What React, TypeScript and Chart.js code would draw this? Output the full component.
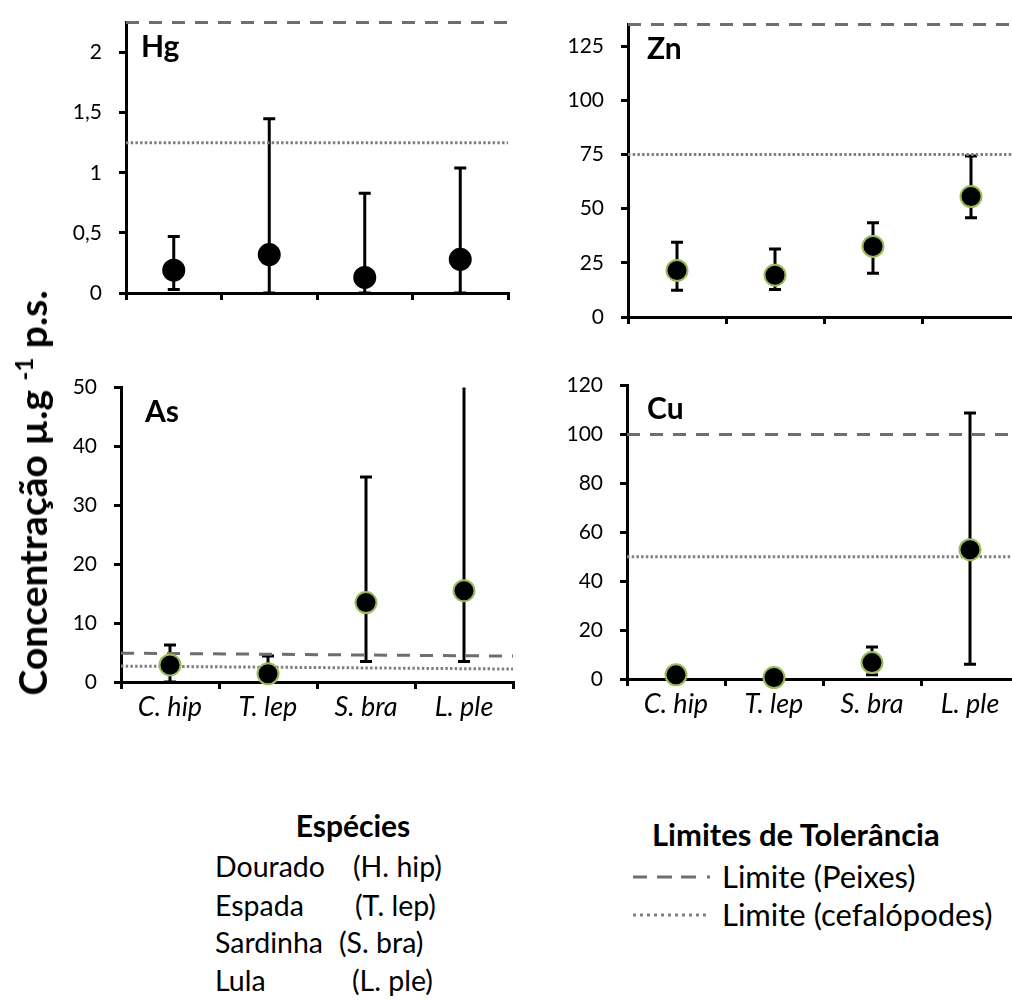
import React, { useEffect, useRef } from "react";
import { Chart, registerables } from "chart.js";

Chart.register(...registerables);

// ---------- data ----------
const categories = ["C. hip", "T. lep", "S. bra", "L. ple"];

const hgMean = [0.19, 0.32, 0.13, 0.28];
const hgLow = [0.03, 0, 0, 0];
const hgHigh = [0.47, 1.45, 0.83, 1.04];
const hgTicks = [0, 0.5, 1, 1.5, 2];
const hgFishLimit = [2.25, 2.25];
const hgCephLimit = [1.25, 1.25];

const znMean = [21.5, 19.3, 32.6, 55.6];
const znLow = [12.4, 12.7, 20.2, 45.8];
const znHigh = [34.5, 31.4, 43.5, 74.3];
const znTicks = [0, 25, 50, 75, 100, 125];
const znFishLimit = [135, 135];
const znCephLimit = [75, 75];

const asMean = [2.9, 1.4, 13.5, 15.5];
const asLow = [0, 0, 3.5, 3.5];
const asHigh = [6.3, 4.4, 34.8, 55];
const asTicks = [0, 10, 20, 30, 40, 50];
const asFishLimit = [4.9, 4.4];
const asCephLimit = [2.7, 2.2];

const cuMean = [1.7, 0.6, 6.7, 52.9];
const cuLow = [1.0, 0.2, 1.7, 6.0];
const cuHigh = [2.5, 1.0, 13.1, 108.8];
const cuTicks = [0, 20, 40, 60, 80, 100, 120];
const cuFishLimit = [100, 100];
const cuCephLimit = [50, 50];

const speciesNames = ["Dourado", "Espada", "Sardinha", "Lula"];
const speciesCodes = ["(H. hip)", "(T. lep)", "(S. bra)", "(L. ple)"];

// ---------- layout / style ----------
const FONT = "Lato, 'Open Sans', sans-serif";
const GREEN = "#9bbb59";
const FISH_COLOR = "#6e6e6e";
const CEPH_COLOR = "#808080";

const Y_W = 80;
const X_H = 50;
const PAD_L = 90;
const PAD_T = 25;
const PAD_R = 25;
const PAD_B = 60;

const panels = [
  { id: "Hg", mean: hgMean, low: hgLow, high: hgHigh, ticks: hgTicks, fish: hgFishLimit, ceph: hgCephLimit,
    max: 2.25, area: { l: 126, t: 17.7, r: 508, b: 293 }, showX: false, edge: "#000", comma: true, lab: { x: 141, y: 57 } },
  { id: "Zn", mean: znMean, low: znLow, high: znHigh, ticks: znTicks, fish: znFishLimit, ceph: znCephLimit,
    max: 135, area: { l: 628, t: 19.7, r: 1020, b: 316.7 }, showX: false, edge: GREEN, comma: false, lab: { x: 647, y: 59 } },
  { id: "As", mean: asMean, low: asLow, high: asHigh, ticks: asTicks, fish: asFishLimit, ceph: asCephLimit,
    max: 50, area: { l: 121, t: 382.7, r: 513, b: 681.7 }, showX: true, edge: GREEN, comma: false, lab: { x: 145, y: 422 } },
  { id: "Cu", mean: cuMean, low: cuLow, high: cuHigh, ticks: cuTicks, fish: cuFishLimit, ceph: cuCephLimit,
    max: 120, area: { l: 627, t: 380.7, r: 1019, b: 679.3 }, showX: true, edge: GREEN, comma: false, lab: { x: 647, y: 419 } },
];

function makeErrorBars(low: number[], high: number[]) {
  return {
    id: "errorBars",
    beforeDatasetsDraw(chart: any) {
      const { ctx, chartArea, scales } = chart;
      const xs = scales.x;
      const ys = scales.y;
      ctx.save();
      ctx.beginPath();
      ctx.rect(chartArea.left - 20, chartArea.top, chartArea.right - chartArea.left + 40, chartArea.bottom - chartArea.top + 10);
      ctx.clip();
      ctx.strokeStyle = "#000";
      ctx.lineWidth = 3;
      ctx.lineCap = "butt";
      low.forEach((lo, i) => {
        const px = xs.getPixelForValue(i);
        const yl = ys.getPixelForValue(lo);
        const yh = ys.getPixelForValue(high[i]);
        ctx.beginPath();
        ctx.moveTo(px, yl);
        ctx.lineTo(px, yh);
        ctx.moveTo(px - 6, yl);
        ctx.lineTo(px + 6, yl);
        ctx.moveTo(px - 6, yh);
        ctx.lineTo(px + 6, yh);
        ctx.stroke();
      });
      ctx.restore();
    },
  };
}

function Panel({ p }: { p: any }) {
  const ref = useRef<HTMLCanvasElement>(null);
  const cx = p.area.l - PAD_L;
  const cy = p.area.t - PAD_T;
  const cw = p.area.r - p.area.l + PAD_L + PAD_R;
  const ch = p.area.b - p.area.t + PAD_T + PAD_B;

  useEffect(() => {
    if (!ref.current) return;
    const chart = new Chart(ref.current, {
      type: "line",
      data: {
        labels: categories,
        datasets: [
          {
            data: p.mean,
            showLine: false,
            pointRadius: 10.5,
            pointHoverRadius: 10.5,
            pointBackgroundColor: "#000",
            pointBorderColor: p.edge,
            pointBorderWidth: 2,
            clip: false,
            xAxisID: "x",
            yAxisID: "y",
          },
          {
            data: [{ x: -0.5, y: p.fish[0] }, { x: 3.5, y: p.fish[1] }],
            xAxisID: "xl",
            yAxisID: "y",
            borderColor: FISH_COLOR,
            borderWidth: 3,
            borderDash: [13, 10],
            pointRadius: 0,
            clip: false,
          },
          {
            data: [{ x: -0.5, y: p.ceph[0] }, { x: 3.5, y: p.ceph[1] }],
            xAxisID: "xl",
            yAxisID: "y",
            borderColor: CEPH_COLOR,
            borderWidth: 3,
            borderDash: [2.5, 2.2],
            pointRadius: 0,
            clip: false,
          },
        ] as any,
      },
      options: {
        responsive: false,
        animation: false,
        devicePixelRatio: 1,
        events: [],
        layout: { padding: { left: PAD_L - Y_W, top: PAD_T, right: PAD_R, bottom: PAD_B - X_H } },
        plugins: { legend: { display: false }, tooltip: { enabled: false } },
        scales: {
          x: {
            type: "category",
            offset: true,
            grid: { offset: true, drawOnChartArea: false, color: "#000", lineWidth: 3, tickLength: 7 },
            border: { color: "#000", width: 3 },
            ticks: {
              display: p.showX,
              font: { family: FONT, size: 27, style: "italic" },
              color: "#000",
              padding: 2,
              maxRotation: 0,
              autoSkip: false,
            },
            afterFit: (s: any) => { s.height = X_H; },
          },
          xl: { type: "linear", display: false, min: -0.5, max: 3.5 },
          y: {
            type: "linear",
            min: 0,
            max: p.max,
            grid: { drawOnChartArea: false, color: "#000", lineWidth: 3, tickLength: 7 },
            border: { color: "#000", width: 3 },
            ticks: {
              font: { family: FONT, size: 21 },
              color: "#000",
              padding: 17,
              callback: (v: any) => (p.comma ? String(v).replace(".", ",") : String(v)),
            },
            afterBuildTicks: (s: any) => { s.ticks = p.ticks.map((v: number) => ({ value: v })); },
            afterFit: (s: any) => { s.width = Y_W; },
          },
        } as any,
      },
      plugins: [makeErrorBars(p.low, p.high)],
    } as any);
    return () => chart.destroy();
  }, []);

  return (
    <canvas
      ref={ref}
      width={cw}
      height={ch}
      style={{ position: "absolute", left: cx, top: cy, width: cw, height: ch }}
    />
  );
}

function Txt({ x, y, size, bold, italic, center, children }: any) {
  return (
    <div
      style={{
        position: "absolute",
        left: x,
        top: y - size * 0.987,
        fontFamily: FONT,
        fontSize: size,
        lineHeight: `${size * 1.2}px`,
        fontWeight: bold ? 700 : 400,
        fontStyle: italic ? "italic" : "normal",
        whiteSpace: "nowrap",
        color: "#000",
        transform: center ? "translateX(-50%)" : undefined,
      }}
    >
      {children}
    </div>
  );
}

const rowBaselines = [877, 916, 953, 991];
const codeX = [353, 355, 339, 352];

export default function App() {
  return (
    <div
      style={{
        position: "absolute",
        left: 0,
        top: 0,
        width: 1012,
        height: 1002,
        overflow: "hidden",
        background: "#fff",
        fontFamily: FONT,
      }}
    >
      {panels.map((p) => (
        <Panel key={p.id} p={p} />
      ))}
      {panels.map((p) => (
        <Txt key={"l" + p.id} x={p.lab.x} y={p.lab.y} size={30} bold>
          {p.id}
        </Txt>
      ))}

      <div
        style={{
          position: "absolute",
          left: 32,
          top: 493,
          transform: "translate(-50%, -50%) rotate(-90deg)",
          fontFamily: FONT,
          fontWeight: 700,
          fontSize: 39,
          whiteSpace: "nowrap",
          color: "#000",
        }}
      >
        Concentração µ.g <sup style={{ fontSize: 24 }}>-1</sup> p.s.
      </div>

      <Txt x={353} y={837} size={30} bold center>
        Espécies
      </Txt>
      {speciesNames.map((n, i) => (
        <React.Fragment key={n}>
          <Txt x={215} y={rowBaselines[i]} size={28.5}>
            {n}
          </Txt>
          <Txt x={codeX[i]} y={rowBaselines[i]} size={28.5}>
            {speciesCodes[i]}
          </Txt>
        </React.Fragment>
      ))}

      <Txt x={652} y={847} size={31} bold>
        Limites de Tolerância
      </Txt>
      <svg
        width={100}
        height={60}
        style={{ position: "absolute", left: 630, top: 865 }}
      >
        <line x1={3} y1={12} x2={82} y2={12} stroke={FISH_COLOR} strokeWidth={3} strokeDasharray="14 10 15 9 15 11 3 40" />
        <line x1={3} y1={50} x2={80} y2={50} stroke={CEPH_COLOR} strokeWidth={3} strokeDasharray="3 4" />
      </svg>
      <Txt x={722} y={889} size={31}>
        Limite (Peixes)
      </Txt>
      <Txt x={722} y={927} size={31}>
        Limite (cefalópodes)
      </Txt>
    </div>
  );
}
